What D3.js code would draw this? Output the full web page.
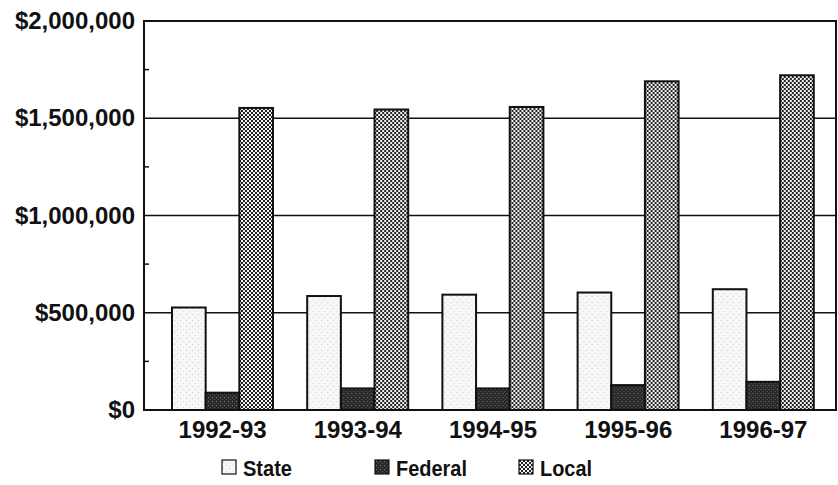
<!DOCTYPE html>
<html><head><meta charset="utf-8">
<script src="https://cdn.jsdelivr.net/npm/d3@7"></script>
<style>body{margin:0;background:#fff}svg{display:block}text{font-family:"Liberation Sans",Arial,sans-serif;font-weight:bold;fill:#111}</style>
</head><body><svg id="c" width="838" height="485"></svg>
<script>
const categories = ["1992-93","1993-94","1994-95","1995-96","1996-97"];
const seriesNames = ["State","Federal","Local"];
const stateVals = [527000, 586000, 593000, 604000, 621000];
const federalVals = [89000, 111000, 111000, 128000, 145000];
const localVals = [1553000, 1545000, 1558000, 1690000, 1721000];
const yTicks = [0, 500000, 1000000, 1500000, 2000000];
const yMinorTicks = [250000, 750000, 1250000, 1750000];

const svg = d3.select("#c");
const L = 144, R = 836, T = 21, B = 410;
const x0 = d3.scaleBand().domain(categories).range([155, 831]).padding(0);
const x1 = d3.scaleBand().domain(seriesNames).range([17, 118]).padding(0);
const y = d3.scaleLinear().domain([0, 2000000]).range([B, T]);

const defs = svg.append("defs");
const pS = defs.append("pattern").attr("id","pState").attr("patternUnits","userSpaceOnUse").attr("width",6).attr("height",6);
pS.append("rect").attr("width",6).attr("height",6).attr("fill","#f7f7f7");
pS.append("rect").attr("x",1).attr("y",2).attr("width",1).attr("height",1).attr("fill","#c8c8c8");
pS.append("rect").attr("x",4).attr("y",5).attr("width",1).attr("height",1).attr("fill","#d4d4d4");
const pF = defs.append("pattern").attr("id","pFed").attr("patternUnits","userSpaceOnUse").attr("width",4).attr("height",4);
pF.append("rect").attr("width",4).attr("height",4).attr("fill","#2a2a2a");
pF.append("rect").attr("x",1).attr("y",1).attr("width",1).attr("height",1).attr("fill","#777");
pF.append("rect").attr("x",3).attr("y",3).attr("width",1).attr("height",1).attr("fill","#555");
const pL = defs.append("pattern").attr("id","pLoc").attr("patternUnits","userSpaceOnUse").attr("width",4).attr("height",4);
pL.append("rect").attr("width",4).attr("height",4).attr("fill","#f2f2f2");
pL.append("rect").attr("x",0).attr("y",0).attr("width",2).attr("height",2).attr("fill","#222");
pL.append("rect").attr("x",2).attr("y",2).attr("width",2).attr("height",2).attr("fill","#222");
const fills = {State:"url(#pState)", Federal:"url(#pFed)", Local:"url(#pLoc)"};

// gridlines
svg.append("g").selectAll("line").data(yTicks.filter(d=>d>0 && d<2000000)).join("line")
  .attr("x1",L).attr("x2",R).attr("y1",d=>y(d)).attr("y2",d=>y(d))
  .attr("stroke","#111").attr("stroke-width",1.3);

// bars
const rows = categories.map((c,i)=>({cat:c, vals:[stateVals[i],federalVals[i],localVals[i]]}));
const g = svg.append("g").selectAll("g").data(rows).join("g").attr("transform",d=>`translate(${x0(d.cat)},0)`);
g.selectAll("rect").data(d=>d.vals.map((v,j)=>({s:seriesNames[j],v}))).join("rect")
  .attr("x",d=>x1(d.s)).attr("width",x1.bandwidth())
  .attr("y",d=>y(d.v)).attr("height",d=>B-y(d.v))
  .attr("fill",d=>fills[d.s]).attr("stroke","#111").attr("stroke-width",2);

// frame
svg.append("rect").attr("x",L).attr("y",T).attr("width",R-L).attr("height",B-T)
  .attr("fill","none").attr("stroke","#111").attr("stroke-width",2);

// y axis
const yAxis = d3.axisLeft(y).tickValues(yTicks).tickSize(0).tickPadding(9).tickFormat(d=>"$"+d3.format(",")(d));
const ya = svg.append("g").attr("transform",`translate(${L},0)`).call(yAxis);
ya.select(".domain").remove();
ya.selectAll("text").attr("font-size",24).attr("font-family","Liberation Sans, Arial, sans-serif").attr("font-weight","bold").attr("fill","#111");
svg.append("g").selectAll("line").data(yMinorTicks).join("line")
  .attr("x1",L).attr("x2",L+5).attr("y1",d=>y(d)).attr("y2",d=>y(d)).attr("stroke","#111").attr("stroke-width",1.5);

// x axis
const xAxis = d3.axisBottom(x0).tickSize(0).tickPadding(11);
const xa = svg.append("g").attr("transform",`translate(0,${B})`).call(xAxis);
xa.select(".domain").remove();
xa.selectAll("text").attr("font-size",24).attr("font-family","Liberation Sans, Arial, sans-serif").attr("font-weight","bold").attr("fill","#111");

// legend
const legX = [222, 375, 519];
const legW = [49, 71, 52];
const lg = svg.append("g").selectAll("g").data(seriesNames).join("g").attr("transform",(d,i)=>`translate(${legX[i]},460)`);
lg.append("rect").attr("width",14).attr("height",14).attr("fill",d=>fills[d]).attr("stroke","#111").attr("stroke-width",1.2);
lg.append("text").attr("x",21).attr("y",16).attr("font-size",22)
  .attr("textLength",(d,i)=>legW[i]).attr("lengthAdjust","spacingAndGlyphs").text(d=>d);
</script></body></html>
